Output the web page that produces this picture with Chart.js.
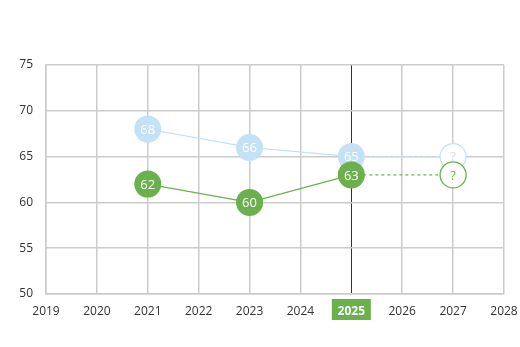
<!DOCTYPE html>
<html>
<head>
<meta charset="utf-8">
<script src="https://cdn.jsdelivr.net/npm/chart.js@4"></script>
<style>
  body { margin: 0; background: #fff; }
  #wrap { width: 520px; height: 347px; }
</style>
</head>
<body>
<div id="wrap"><canvas id="chart"></canvas></div>
<script>
const years = [2021, 2023, 2025];
const blueValues = [68, 66, 65];
const greenValues = [62, 60, 63];
const projYears = [2025, 2027];
const blueProj = [65, 65];
const greenProj = [63, 63];
const projLabel = '?';
const currentYear = 2025;

const GREEN = '#6ab04c';
const BLUE = '#c4e2f6';
const FONT = "'Open Sans', sans-serif";
const R = 13.5;

const pts = (xs, ys) => xs.map((x, i) => ({ x: x, y: ys[i] }));

// green box behind the current year tick
const highlightTick = {
  id: 'highlightTick',
  beforeDraw(chart) {
    const x = chart.scales.x.getPixelForValue(currentYear);
    const ctx = chart.ctx;
    ctx.save();
    ctx.fillStyle = GREEN;
    ctx.fillRect(x - 19.5, 299, 39, 21);
    ctx.restore();
  }
};

// values written inside the circles
const pointText = {
  id: 'pointText',
  afterDatasetsDraw(chart) {
    const ctx = chart.ctx;
    ctx.save();
    ctx.font = '13px ' + FONT;
    ctx.textAlign = 'center';
    ctx.textBaseline = 'middle';
    chart.data.datasets.forEach((ds, i) => {
      chart.getDatasetMeta(i).data.forEach((el, j) => {
        if (ds.proj) {
          if (j === 0) return;
          ctx.fillStyle = ds.borderColor;
          ctx.fillText(projLabel, el.x, el.y + 1);
        } else {
          ctx.fillStyle = '#fff';
          ctx.fillText(ds.data[j].y, el.x, el.y + 1);
        }
      });
    });
    ctx.restore();
  }
};

new Chart(document.getElementById('chart'), {
  type: 'line',
  data: {
    datasets: [
      {
        data: pts(years, greenValues),
        borderColor: GREEN, backgroundColor: GREEN,
        borderWidth: 1.2, pointRadius: R, pointBorderWidth: 0, pointHoverRadius: R
      },
      {
        proj: true,
        data: pts(projYears, greenProj),
        borderColor: GREEN, backgroundColor: '#fff',
        borderWidth: 1.2, borderDash: [3, 3],
        pointRadius: [0, R - 0.5], pointBorderWidth: 1.3
      },
      {
        data: pts(years, blueValues),
        borderColor: BLUE, backgroundColor: BLUE,
        borderWidth: 1.2, pointRadius: R, pointBorderWidth: 0
      },
      {
        proj: true,
        data: pts(projYears, blueProj),
        borderColor: BLUE, backgroundColor: '#fff',
        borderWidth: 1.2, borderDash: [3, 3],
        pointRadius: [0, R - 0.5], pointBorderWidth: 1.3
      }
    ]
  },
  options: {
    responsive: true,
    maintainAspectRatio: false,
    animation: false,
    layout: { padding: { top: 65, right: 16, left: 0, bottom: 0 } },
    plugins: { legend: { display: false }, tooltip: { enabled: false } },
    scales: {
      x: {
        type: 'linear',
        min: 2019, max: 2028,
        afterFit(scale) {
          scale.height = 53;
          scale.paddingLeft = 0;
          scale.paddingRight = 0;
        },
        grid: {
          color: ctx => ctx.tick && ctx.tick.value === currentYear ? '#333' : '#cccccc',
          lineWidth: ctx => ctx.tick && ctx.tick.value === currentYear ? 1 : 1.5,
          drawTicks: false
        },
        border: { color: '#cccccc', width: 1.5 },
        ticks: {
          stepSize: 1,
          padding: 10,
          maxRotation: 0,
          autoSkip: false,
          callback: v => String(v),
          color: ctx => ctx.tick.value === currentYear ? '#fff' : '#333',
          font: ctx => ({ family: FONT, size: 12, weight: ctx.tick && ctx.tick.value === currentYear ? 'bold' : 'normal' })
        }
      },
      y: {
        min: 50, max: 75,
        afterFit(scale) { scale.width = 46; },
        grid: { color: '#cccccc', lineWidth: 1.5, drawTicks: false },
        border: { color: '#cccccc', width: 1.5 },
        ticks: {
          stepSize: 5,
          padding: 13,
          color: '#333',
          font: { family: FONT, size: 12 }
        }
      }
    }
  },
  plugins: [highlightTick, pointText]
});
</script>
</body>
</html>
